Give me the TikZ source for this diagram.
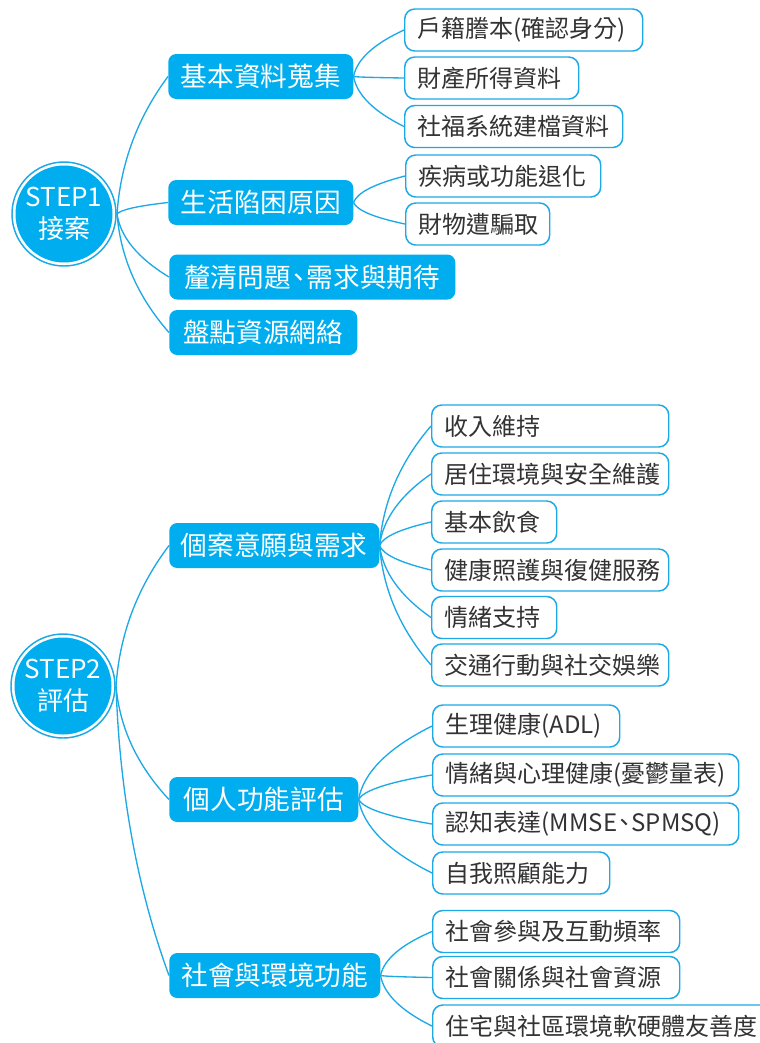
\documentclass[tikz,border=0pt]{standalone}
\usepackage{fontspec}
\setmainfont{Noto Sans CJK TC}
\usetikzlibrary{backgrounds,calc}
\definecolor{mblue}{HTML}{00AEEF}
\definecolor{lblue}{HTML}{1DA9E6}
\definecolor{tgray}{HTML}{333333}
\newcommand{\linkto}[2]{%
 \draw[connline] let \p1=(#1), \p2=(#2) in (\p1) .. controls ({\x1+0.067*(\x2-\x1)},{\y1+0.367*(\y2-\y1)}) and ({\x2-0.6*(\x2-\x1)},{\y2-0.3*(\y2-\y1)}) .. (\p2);}
\newcommand{\tightcomma}{\makebox[0.6em][c]{、}}
\begin{document}
\begin{tikzpicture}[x=0.75pt,y=-0.75pt,
  connline/.style={lblue, line width=1pt},
  stepcirc/.style={circle, fill=mblue, text=white, minimum size=72.75pt, inner sep=0pt, outer sep=3.4pt, align=center, font=\fontsize{19.5}{24}\selectfont},
  lvone/.style={fill=mblue, text=white, rounded corners=6pt, anchor=west, minimum height=33.75pt, inner xsep=0pt, inner ysep=0pt, font=\fontsize{20}{24}\selectfont},
  lvtwo/.style={draw=lblue, line width=1.1pt, fill=white, text=tgray, rounded corners=7.5pt, anchor=west, minimum height=31.5pt, inner xsep=9.75pt, inner ysep=0pt, align=left, font=\fontsize{18}{22}\selectfont}]
\useasboundingbox (0,0) rectangle (760,1043);
\clip (0,0) rectangle (760,1043);

% STEP 1
\node[stepcirc] (s1) at (64,214) {STEP1\\接案};
\draw[lblue, line width=1.1pt] (s1.center) circle[radius=52];

\node[lvone, minimum width=138.75pt] (b1) at (168,76.5) {基本資料蒐集};
\node[lvone, minimum width=138.75pt] (b2) at (168,202.5) {生活陷困原因};
\node[lvone, minimum width=214.5pt] (b3) at (169,277) {釐清問題\tightcomma 需求與期待};
\node[lvone, minimum width=141pt] (b4) at (169,332.5) {盤點資源網絡};

\node[lvtwo, text width=159pt] (w11) at (404,30) {戶籍謄本(確認身分)};
\node[lvtwo, text width=111pt] (w12) at (404,78) {財產所得資料};
\node[lvtwo, text width=144pt] (w13) at (404,126.5) {社福系統建檔資料};
\node[lvtwo, text width=126.75pt] (w21) at (405,176) {疾病或功能退化};
\node[lvtwo, text width=88.5pt] (w22) at (405,224) {財物遭騙取};

% STEP 2
\node[stepcirc] (s2) at (63,686) {STEP2\\評估};
\draw[lblue, line width=1.1pt] (s2.center) circle[radius=52];

\node[lvone, minimum width=157.5pt] (b5) at (169,545.5) {個案意願與需求};
\node[lvone, minimum width=141.75pt] (b6) at (169,799.5) {個人功能評估};
\node[lvone, minimum width=158.25pt] (b7) at (169,975.5) {社會與環境功能};

\node[lvtwo, text width=158.25pt] (w51) at (431,426) {收入維持};
\node[lvtwo, text width=158.25pt] (w52) at (431,474) {居住環境與安全維護};
\node[lvtwo, text width=74.25pt] (w53) at (431,522) {基本飲食};
\node[lvtwo, text width=158.25pt] (w54) at (431,570) {健康照護與復健服務};
\node[lvtwo, text width=74.25pt] (w55) at (431,617.5) {情緒支持};
\node[lvtwo, text width=158.25pt] (w56) at (431,665) {交通行動與社交娛樂};

\node[lvtwo, text width=120.75pt] (w61) at (432,726) {生理健康(ADL)};
\node[lvtwo, text width=210pt] (w62) at (432,775) {情緒與心理健康(憂鬱量表)};
\node[lvtwo, text width=210pt] (w63) at (432,824) {認知表達(MMSE\tightcomma SPMSQ)};
\node[lvtwo, text width=113.25pt] (w64) at (432,873) {自我照顧能力};

\node[lvtwo, text width=165.75pt] (w71) at (432,931.5) {社會參與及互動頻率};
\node[lvtwo, text width=165.75pt] (w72) at (432,977.5) {社會關係與社會資源};
\node[lvtwo, text width=245pt] (w73) at (432,1026) {住宅與社區環境軟硬體友善度};

\begin{scope}[on background layer]
\fill[white] (0,0) rectangle (760,1043);
\linkto{s1.east}{b1.west}
\linkto{s1.east}{b2.west}
\linkto{s1.east}{b3.west}
\linkto{s1.east}{b4.west}
\linkto{b1.east}{w11.west}
\linkto{b1.east}{w12.west}
\linkto{b1.east}{w13.west}
\linkto{b2.east}{w21.west}
\linkto{b2.east}{w22.west}
\linkto{s2.east}{b5.west}
\linkto{s2.east}{b6.west}
\linkto{s2.east}{b7.west}
\linkto{b5.east}{w51.west}
\linkto{b5.east}{w52.west}
\linkto{b5.east}{w53.west}
\linkto{b5.east}{w54.west}
\linkto{b5.east}{w55.west}
\linkto{b5.east}{w56.west}
\linkto{b6.east}{w61.west}
\linkto{b6.east}{w62.west}
\linkto{b6.east}{w63.west}
\linkto{b6.east}{w64.west}
\linkto{b7.east}{w71.west}
\linkto{b7.east}{w72.west}
\linkto{b7.east}{w73.west}
\end{scope}
\end{tikzpicture}
\end{document}
